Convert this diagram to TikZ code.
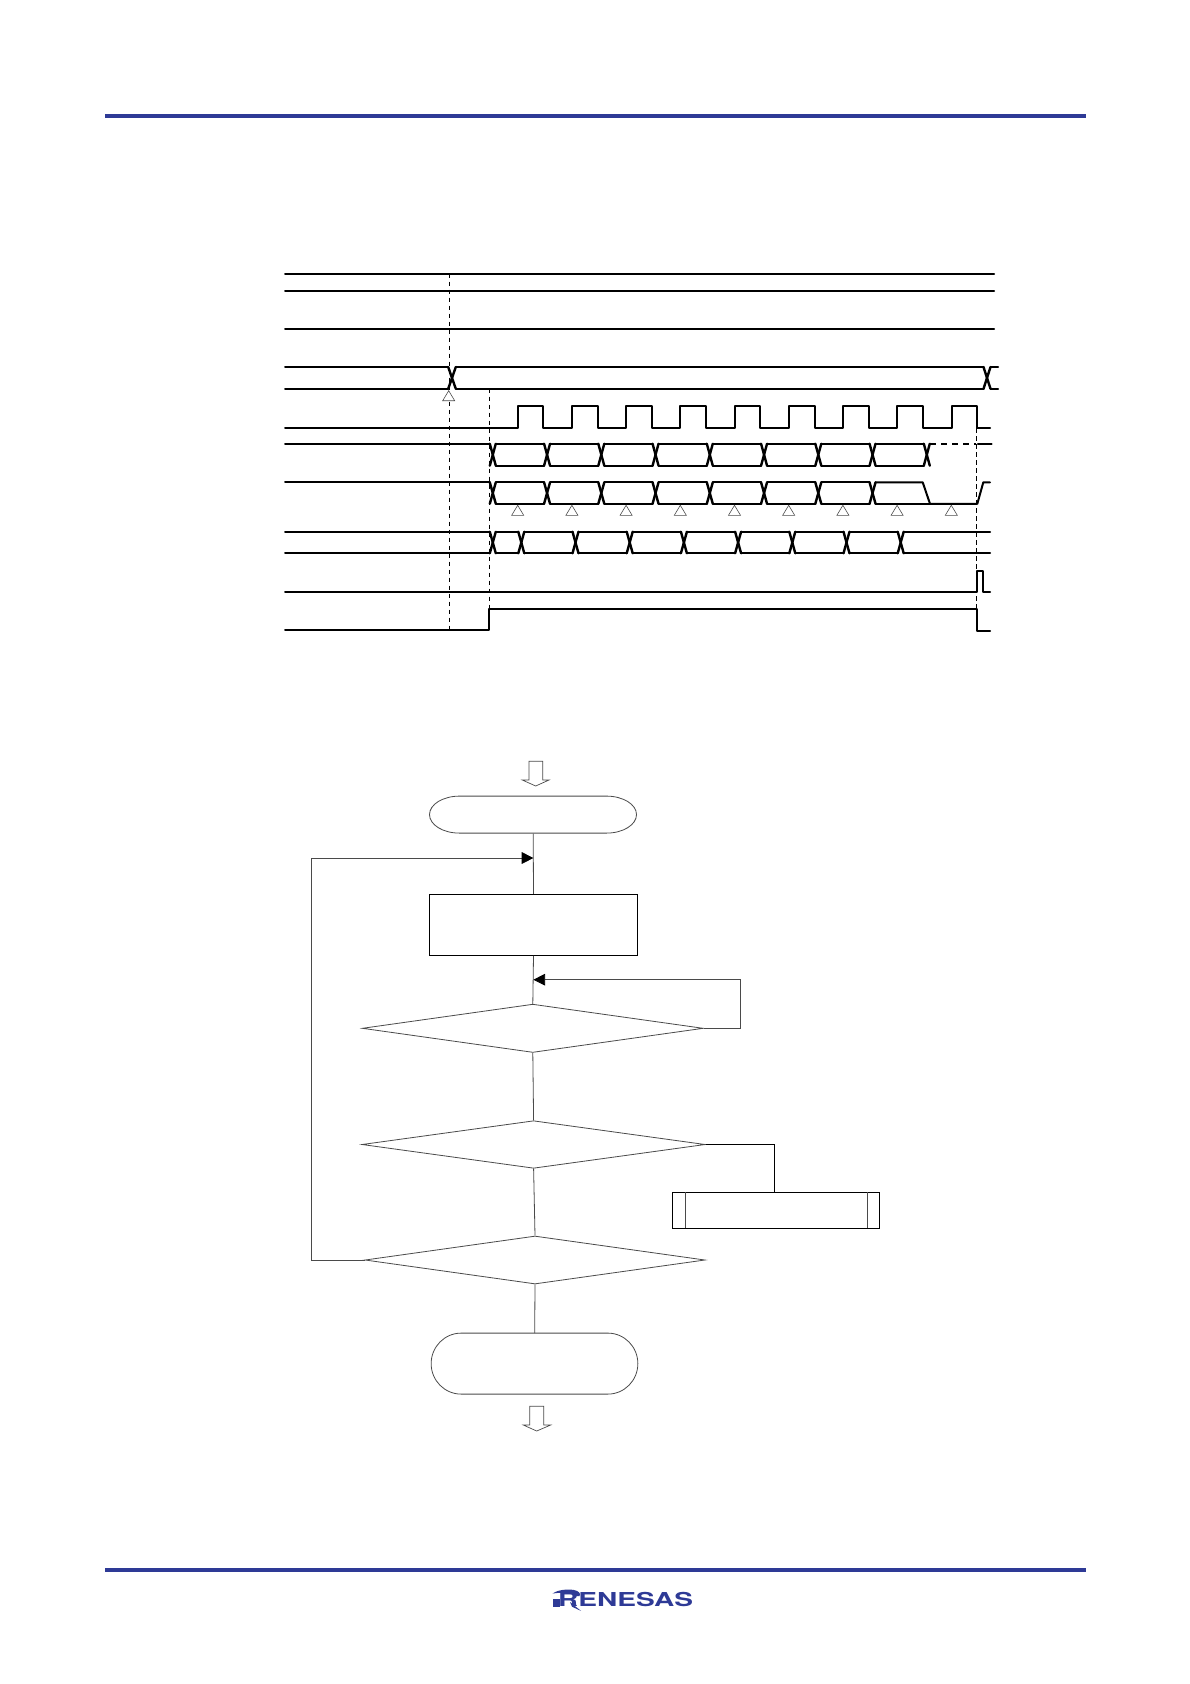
\documentclass[tikz,border=0pt]{standalone}
\usepackage{fontspec}
\setmainfont{TeX Gyre Heros}
\usetikzlibrary{arrows.meta,shapes.geometric}
\definecolor{renblue}{HTML}{2E3A96}
\definecolor{flowgrey}{HTML}{4A4A4A}
\tikzset{
  sig/.style={line width=2pt,black,line join=round,line cap=round},
  cross/.style={sig,line width=2.4pt},
  guide/.style={line width=0.9pt,black,dash pattern=on 4.5pt off 3.5pt},
  dashsig/.style={line width=2pt,black,dash pattern=on 6pt off 5pt},
  samp/.style={line width=0.6pt,draw=black!70,fill=white},
  bar/.style={fill=renblue,draw=none},
  flow/.style={line width=0.8pt,draw=flowgrey},
  flowtip/.style={flow,-{Triangle[length=11.7pt,width=11.7pt,fill=black,color=black]}},
  box/.style={draw=black,line width=1.1pt,rectangle,inner sep=0pt},
  ghost/.style={rectangle,inner sep=0pt},
  dec/.style={flow,diamond,inner sep=0pt,aspect=1},
  hollow/.style={line width=0.7pt,draw=flowgrey,fill=white,line join=miter},
}
\begin{document}
\begin{tikzpicture}[x=1pt,y=-1pt]
\useasboundingbox (0,0) rectangle (1190,1684);
\fill[white] (0,0) rectangle (1190,1684);
% page rules
\fill[bar] (105,114) rectangle (1086,118);
\fill[bar] (105,1568) rectangle (1086,1572);
% static lines
\draw[sig] (285,273.5) -- (994,273.5);
\draw[sig] (285,290.7) -- (994,290.7);
\draw[sig] (285,328.7) -- (994,328.7);
% address bus
\draw[sig] (285,367) -- (448.2,367);
\draw[sig] (285,388.8) -- (448.2,388.8);
\draw[cross] (448.2,367) -- (455.8,388.8);
\draw[cross] (448.2,388.8) -- (455.8,367);
\draw[sig] (455.8,367) -- (983.5,367);
\draw[sig] (455.8,388.8) -- (983.5,388.8);
\draw[cross] (983.5,367) -- (990.5,388.8);
\draw[cross] (983.5,388.8) -- (990.5,367);
\draw[sig] (990.5,367) -- (998,367);
\draw[sig] (990.5,388.8) -- (998,388.8);
% clock
\draw[sig] (285,427.7) -- (517.7,427.7)
  \foreach \i in {0,...,8} {
    -- ({517.7+54.25*\i},427.7) -- ({517.7+54.25*\i},405.7)
    -- ({543.4+54.25*\i},405.7) -- ({543.4+54.25*\i},427.7)
  } -- (990,427.7);
% data bus A
\draw[sig] (285,443.7) -- (489.8,443.7);
\foreach \i in {0,...,8} {
  \pgfmathsetmacro{\c}{492.8+54.25*\i}
  \draw[cross] (\c-3,443.7) -- (\c+3,465.7);
  \draw[cross] (\c-3,465.7) -- (\c+3,443.7);
}
\foreach \i in {0,...,7} {
  \pgfmathsetmacro{\c}{495.8+54.25*\i}
  \draw[sig] (\c,443.7) -- (\c+48.25,443.7);
  \draw[sig] (\c,465.7) -- (\c+48.25,465.7);
}
\draw[dashsig] (930,443.7) -- (976,443.7);
\draw[sig] (977.8,443.7) -- (991.7,443.7);
% data bus B
\draw[sig] (285,482.3) -- (489.8,482.3);
\foreach \i in {0,...,7} {
  \pgfmathsetmacro{\c}{492.8+54.25*\i}
  \draw[cross] (\c-3,482.3) -- (\c+3,503.8);
  \draw[cross] (\c-3,503.8) -- (\c+3,482.3);
}
\foreach \i in {0,...,6} {
  \pgfmathsetmacro{\c}{495.8+54.25*\i}
  \draw[sig] (\c,482.3) -- (\c+48.25,482.3);
  \draw[sig] (\c,503.8) -- (\c+48.25,503.8);
}
\draw[sig] (875.5,482.3) -- (922.7,482.3) -- (930,503.8) -- (977.3,503.8) -- (983.3,482.3) -- (990,482.3);
\draw[sig] (875.5,503.8) -- (930,503.8);
% data bus C
\draw[sig] (285,531.7) -- (489.8,531.7);
\draw[sig] (285,553.3) -- (489.8,553.3);
\draw[cross] (489.8,531.7) -- (495.8,553.3);
\draw[cross] (489.8,553.3) -- (495.8,531.7);
\draw[sig] (495.8,531.7) -- (518.3,531.7);
\draw[sig] (495.8,553.3) -- (518.3,553.3);
\foreach \i in {0,...,7} {
  \pgfmathsetmacro{\c}{521.3+54.2*\i}
  \draw[cross] (\c-3,531.7) -- (\c+3,553.3);
  \draw[cross] (\c-3,553.3) -- (\c+3,531.7);
}
\foreach \i in {0,...,6} {
  \pgfmathsetmacro{\c}{524.3+54.2*\i}
  \draw[sig] (\c,531.7) -- (\c+48.2,531.7);
  \draw[sig] (\c,553.3) -- (\c+48.2,553.3);
}
\draw[sig] (903.7,531.7) -- (990,531.7);
\draw[sig] (903.7,553.3) -- (990,553.3);
% stop pulse
\draw[sig] (285,592.3) -- (977.3,592.3) -- (977.3,570.7) -- (983.3,570.7) -- (983.3,592.3) -- (990,592.3);
% busy
\draw[sig] (285,630) -- (489.3,630) -- (489.3,609) -- (977.3,609) -- (977.3,631) -- (990,631);
% guides
\draw[guide] (449.3,273.5) -- (449.3,630);
\draw[guide] (489.3,388.5) -- (489.3,630);
\draw[guide] (976.7,428) -- (976.7,631);
% sampling marks
\draw[samp] (448.7,390.7) -- (454.7,400.7) -- (442.7,400.7) -- cycle;
\foreach \i in {0,...,8} {
  \pgfmathsetmacro{\c}{517.7+54.2*\i}
  \draw[samp] (\c,505.3) -- (\c+6,515.3) -- (\c-6,515.3) -- cycle;
}

% flowchart
\draw[hollow] (529,761.3) -- (542.7,761.3) -- (542.7,780) -- (549,780) -- (535.7,786) -- (522.3,780) -- (529,780) -- cycle;
\node[ghost,minimum width=207pt,minimum height=37pt] (startt) at (533.2,814.8) {};
\draw[flow] (startt.north west)++(30,0) -- ++(147,0) arc[start angle=-90,end angle=90,x radius=30,y radius=18.5] -- ++(-147,0) arc[start angle=90,end angle=270,x radius=30,y radius=18.5] -- cycle;
\node[box,minimum width=208.4pt,minimum height=61pt] (init) at (533.5,924.8) {};
\node[dec,minimum width=341pt,minimum height=48.3pt] (d1) at (532.8,1028.3) {};
\node[dec,minimum width=343.3pt,minimum height=47.6pt] (d2) at (533.6,1144.5) {};
\node[dec,minimum width=340pt,minimum height=48pt] (d3) at (535,1260) {};
\node[box,minimum width=207pt,minimum height=36pt] (sub) at (775.8,1210.3) {};
\draw[flow] (685.3,1192.3) -- (685.3,1228.3);
\draw[flow] (867.3,1192.3) -- (867.3,1228.3);
\node[ghost,minimum width=206.7pt,minimum height=61pt] (endt) at (534.7,1363.8) {};
\draw[flow] (endt.north west)++(30,0) -- ++(146.7,0) arc[start angle=-90,end angle=90,x radius=30,y radius=30.5] -- ++(-146.7,0) arc[start angle=90,end angle=270,x radius=30,y radius=30.5] -- cycle;
\draw[hollow] (529.7,1406.3) -- (543.7,1406.3) -- (543.7,1425) -- (550.7,1425) -- (536.7,1431) -- (523.3,1425) -- (529.7,1425) -- cycle;
\coordinate (j1) at (533.4,858);
\coordinate (j2) at (533.4,979.7);
\coordinate (loopL) at (311.7,1260);
\coordinate (loopT) at (311.7,858);
\coordinate (backR) at (740.3,1028.3);
\coordinate (backT) at (740.3,979.7);
\coordinate (subT) at (774.3,1192.3);
\coordinate (subR) at (774.3,1144.5);
\draw[flow] (startt.south) -- (init.north);
\draw[flow] (init.south) -- (d1.north);
\draw[flow] (d1.south) -- (d2.north);
\draw[flow] (d2.south) -- (d3.north);
\draw[flow] (d3.south) -- (endt.north);
\draw[flowtip] (d3.west) -- (loopL) -- (loopT) -- (j1);
\draw[flowtip] (d1.east) -- (backR) -- (backT) -- (j2);
\draw[flow,draw=black,line width=1pt] (d2.east) -- (subR) -- (subT);
% logo
\node[anchor=base west,inner sep=0pt,text=renblue,font=\fontsize{19.2pt}{19.2pt}\selectfont\bfseries] (logo) at (558,1606.7) {\scalebox{1.46}[1]{RENESAS}};
\fill[renblue] (552.7,1599.3) rectangle (560,1606.7);
\fill[renblue] (552.7,1593.5) .. controls (558,1589.5) and (568,1589) .. (574,1590) .. controls (579,1591) and (581,1593.5) .. (579.5,1596) -- (575,1596) .. controls (575,1593.5) and (566,1591.5) .. (552.7,1593.5) -- cycle;
\fill[renblue] (570,1602) -- (581,1610.9) -- (572,1606.7) -- cycle;
\end{tikzpicture}
\end{document}
